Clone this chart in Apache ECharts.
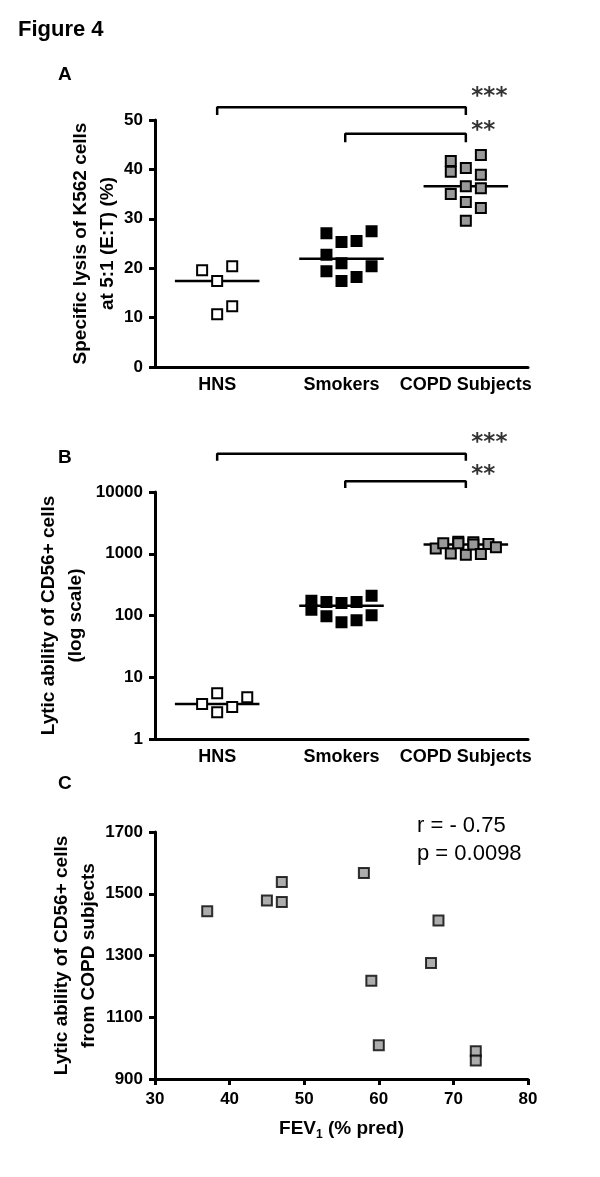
<!DOCTYPE html>
<html>
<head>
<meta charset="utf-8">
<script src="https://cdn.jsdelivr.net/npm/echarts@6/dist/echarts.min.js"></script>
<style>
html,body{margin:0;padding:0;background:#fff;}
#chart{width:600px;height:1177px;}
</style>
</head>
<body>
<div id="chart"></div>
<script>
// ---------- DATA ----------
const categories = ['HNS', 'Smokers', 'COPD Subjects'];

// Panel A: specific lysis (%)
const hnsA = [19.6, 20.4, 17.4, 12.3, 10.7];
const hnsASlot = [-1, 1, 0, 1, 0];
const smokersA = [27.1, 27.5, 25.3, 25.5, 22.7, 21.0, 20.4, 19.4, 17.4, 18.2];
const smokersASlot = [-1, 2, 0, 1, -1, 0, 2, -1, 0, 1];
const copdA = [41.7, 39.5, 40.3, 42.9, 38.9, 36.6, 36.2, 35.0, 33.4, 32.2, 29.6];
const copdASlot = [-1, -1, 0, 1, 1, 0, 1, -1, 0, 1, 0];
const mediansA = [17.4, 21.9, 36.6];

// Panel B: lytic ability (log scale)
const hnsB = [3.7, 5.5, 2.7, 3.3, 4.75];
const hnsBSlot = [-1, 0, 0, 1, 2];
const smokersB = [173, 124, 165, 97, 160, 78, 165, 84, 208, 101];
const smokersBSlot = [-2, -2, -1, -1, 0, 0, 1, 1, 2, 2];
const copdB = [1218, 1478, 1009, 1567, 1473, 960, 1538, 1413, 990, 1443, 1276];
const copdBSlot = [-2, -1.5, -1, -0.5, -0.5, 0, 0.5, 0.5, 1, 1.5, 2];
const mediansB = [3.7, 144, 1413];

// Panel C: FEV1 vs lytic ability (COPD)
const fevC = [37, 45, 47, 47, 58, 59, 60, 67, 68, 73, 73];
const lyticC = [1443, 1478, 1538, 1473, 1567, 1218, 1009, 1276, 1413, 990, 960];

// significance brackets [fromCat, toCat, barLevel, tickEnd, stars, starLevel]
const bracketsA = [[0, 2, 52.6, 51.0, '***', 54.6], [1.03, 2, 47.2, 45.5, '**', 47.7]];
const bracketsB = [[0, 2, 41600, 32200, '***', 62000], [1.03, 2, 14950, 11570, '**', 19000]];

// ---------- STYLE ----------
const FONT = '"Liberation Sans", Arial, sans-serif';
const SLOT = 0.121;
const fills = ['#ffffff', '#000000', '#999999'];

function groupScatter(values, slots, cat, xi, yi) {
  return {
    type: 'scatter', xAxisIndex: xi, yAxisIndex: yi, z: 5,
    symbol: 'rect', symbolSize: 10,
    itemStyle: { color: fills[cat], borderColor: '#000', borderWidth: 2, opacity: 1 },
    data: values.map((v, i) => [cat + slots[i] * SLOT, v]),
    silent: true
  };
}
function medianLine(m, cat, xi, yi) {
  return {
    type: 'line', xAxisIndex: xi, yAxisIndex: yi, z: 3, symbol: 'none',
    lineStyle: { color: '#000', width: 2.5 },
    data: [[cat - 0.34, m], [cat + 0.34, m]], silent: true, animation: false
  };
}
function bracket(b, xi, yi) {
  return [{
    type: 'line', xAxisIndex: xi, yAxisIndex: yi, symbol: 'none', clip: false,
    lineStyle: { color: '#000', width: 2.5 },
    data: [[b[0], b[3]], [b[0], b[2]], [b[1], b[2]], [b[1], b[3]]], silent: true
  }, {
    type: 'scatter', xAxisIndex: xi, yAxisIndex: yi, clip: false, symbolSize: 1,
    itemStyle: { color: 'rgba(0,0,0,0)' },
    label: { show: true, position: 'right', distance: 5, formatter: b[4],
      fontFamily: '"DejaVu Sans", sans-serif', fontWeight: 'bold', fontSize: 23, color: '#000' },
    data: [[b[1], b[5]]], silent: true
  }];
}

const axisLine = { show: true, onZero: false, lineStyle: { color: '#000', width: 3 } };
const axisTick = { show: true, length: 6, lineStyle: { color: '#000', width: 3 } };
const tickLabel = { color: '#000', fontFamily: FONT, fontWeight: 'bold', fontSize: 17, margin: 12 };
const nameStyle = { color: '#000', fontFamily: FONT, fontWeight: 'bold', fontSize: 19, lineHeight: 27 };

const grids = [
  { left: 155, right: 72, top: 120, height: 247 },
  { left: 155, right: 72, top: 492, height: 247 },
  { left: 155, right: 72, top: 832, height: 247 }
];

const catAxis = (g) => ({
  type: 'category', gridIndex: g, data: categories, boundaryGap: true,
  axisLine: axisLine, axisTick: { show: false },
  axisLabel: Object.assign({}, tickLabel, { fontSize: 18, margin: 9, interval: 0 })
});
const valX = (g) => ({ type: 'value', gridIndex: g, min: -0.5, max: 2.5, show: false });

const series = [];
[[hnsA, hnsASlot], [smokersA, smokersASlot], [copdA, copdASlot]].forEach((d, c) => {
  series.push(medianLine(mediansA[c], c, 1, 0));
  series.push(groupScatter(d[0], d[1], c, 1, 0));
});
[[hnsB, hnsBSlot], [smokersB, smokersBSlot], [copdB, copdBSlot]].forEach((d, c) => {
  series.push(medianLine(mediansB[c], c, 3, 1));
  series.push(groupScatter(d[0], d[1], c, 3, 1));
});
bracketsA.forEach(b => series.push(...bracket(b, 1, 0)));
bracketsB.forEach(b => series.push(...bracket(b, 3, 1)));
series.push({
  type: 'scatter', xAxisIndex: 4, yAxisIndex: 2, symbol: 'rect', symbolSize: 10,
  itemStyle: { color: fills[2], borderColor: '#000', borderWidth: 2 },
  data: fevC.map((f, i) => [f, lyticC[i]]), silent: true
});

const plainNum = v => String(Math.round(v));

const option = {
  animation: false,
  backgroundColor: '#fff',
  grid: grids,
  xAxis: [
    catAxis(0), valX(0), catAxis(1), valX(1),
    {
      type: 'value', gridIndex: 2, min: 30, max: 80, interval: 10,
      axisLine: axisLine, axisTick: axisTick, splitLine: { show: false },
      axisLabel: Object.assign({}, tickLabel, { margin: 12, formatter: plainNum }),
      name: '{a|FEV}{s|1}{a| (% pred)}', nameLocation: 'middle', nameGap: 38, nameMoveOverlap: false,
      nameTextStyle: {
        rich: {
          a: { fontFamily: FONT, fontWeight: 'bold', fontSize: 19, color: '#000' },
          s: { fontFamily: FONT, fontWeight: 'bold', fontSize: 12, color: '#000', padding: [12, 0, 0, 0] }
        }
      }
    }
  ],
  yAxis: [
    {
      type: 'value', gridIndex: 0, min: 0, max: 50, interval: 10,
      axisLine: axisLine, axisTick: axisTick, splitLine: { show: false }, axisLabel: tickLabel,
      name: 'Specific lysis of K562 cells\nat 5:1 (E:T) (%)', nameLocation: 'middle', nameRotate: 90,
      nameGap: 34, nameMoveOverlap: false, nameTextStyle: nameStyle
    },
    {
      type: 'log', logBase: 10, gridIndex: 1, min: 1, max: 10000,
      axisLine: axisLine, axisTick: axisTick, splitLine: { show: false }, minorTick: { show: false },
      axisLabel: Object.assign({}, tickLabel, { formatter: plainNum }),
      name: 'Lytic ability of CD56+ cells\n(log scale)', nameLocation: 'middle', nameRotate: 90,
      nameGap: 66, nameMoveOverlap: false, nameTextStyle: nameStyle
    },
    {
      type: 'value', gridIndex: 2, min: 900, max: 1700, interval: 200,
      axisLine: axisLine, axisTick: axisTick, splitLine: { show: false },
      axisLabel: Object.assign({}, tickLabel, { formatter: plainNum }),
      name: 'Lytic ability of CD56+ cells\nfrom COPD subjects', nameLocation: 'middle', nameRotate: 90,
      nameGap: 53, nameMoveOverlap: false, nameTextStyle: nameStyle
    }
  ],
  graphic: [
    { type: 'text', left: 18, top: 19, style: { text: 'Figure 4', font: 'bold 22px ' + FONT, fill: '#000' } },
    { type: 'text', left: 58, top: 65, style: { text: 'A', font: 'bold 19px ' + FONT, fill: '#000' } },
    { type: 'text', left: 58, top: 448, style: { text: 'B', font: 'bold 19px ' + FONT, fill: '#000' } },
    { type: 'text', left: 58, top: 774, style: { text: 'C', font: 'bold 19px ' + FONT, fill: '#000' } },
    { type: 'text', left: 417, top: 815, style: { text: 'r = - 0.75', font: '22px ' + FONT, fill: '#000' } },
    { type: 'text', left: 417, top: 843, style: { text: 'p = 0.0098', font: '22px ' + FONT, fill: '#000' } }
  ],
  series: series
};

const chart = echarts.init(document.getElementById('chart'), null, { renderer: 'canvas' });
chart.setOption(option);
</script>
</body>
</html>
